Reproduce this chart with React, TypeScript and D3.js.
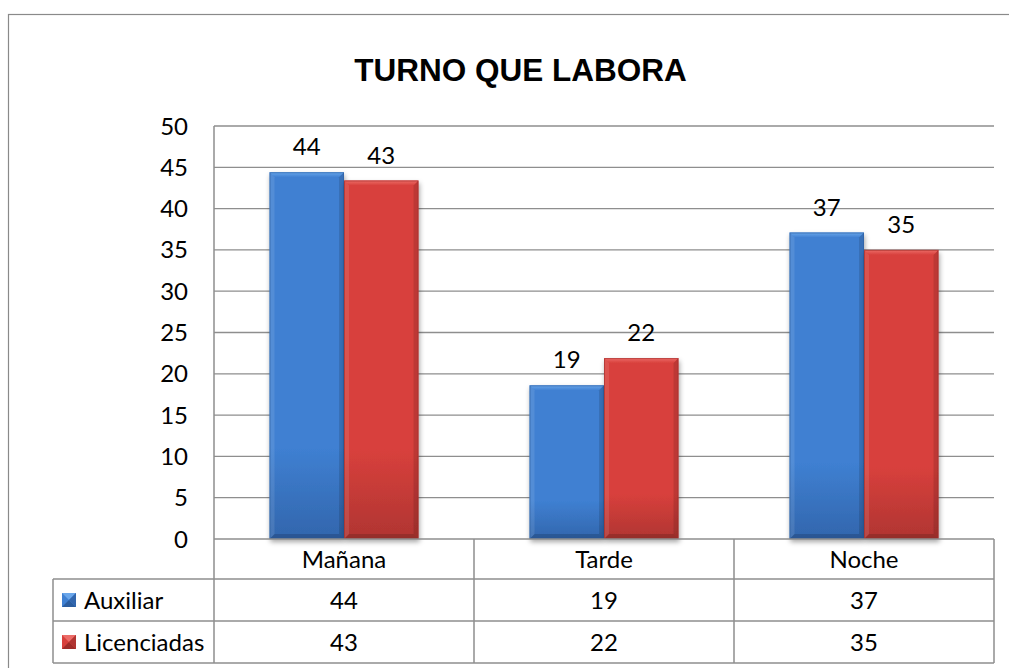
import React, { useEffect, useRef } from 'react';
import * as d3 from 'd3';

// chart data
const categories = ['Mañana', 'Tarde', 'Noche'];
const seriesNames = ['Auxiliar', 'Licenciadas'];
const auxiliar = [44.4, 18.6, 37.1];
const licenciadas = [43.4, 21.9, 35.0];
const yTicks = [0, 5, 10, 15, 20, 25, 30, 35, 40, 45, 50];
const title = 'TURNO QUE LABORA';

const palette = [
  { main: '#3f80d2', top: '#6aa6ea', dark: '#2b5d9f', bottom: '#3266ad' },
  { main: '#d8403c', top: '#ec6c68', dark: '#9e2c29', bottom: '#b03532' },
];

const FONT = 'Lato, "Liberation Sans", sans-serif';
const FS = 24;

export default function App() {
  const ref = useRef<SVGSVGElement>(null);

  useEffect(() => {
    const svg = d3.select(ref.current);
    svg.selectAll('*').remove();

    const W = 1009, H = 668;
    const plot = { left: 214, right: 994, top: 126, bottom: 539 };
    const rowH = [539, 579, 621, 663];
    const tableLeft = 53;
    const gridColor = '#8e8e8e';
    const values = [auxiliar, licenciadas];

    const defs = svg.append('defs');
    palette.forEach((c, i) => {
      const g = defs.append('linearGradient').attr('id', 'body' + i)
        .attr('x1', 0).attr('y1', 0).attr('x2', 0).attr('y2', 1);
      g.append('stop').attr('offset', '0%').attr('stop-color', c.main);
      g.append('stop').attr('offset', '75%').attr('stop-color', c.main);
      g.append('stop').attr('offset', '100%').attr('stop-color', c.bottom);
      const t = defs.append('linearGradient').attr('id', 'top' + i)
        .attr('x1', 0).attr('y1', 0).attr('x2', 0).attr('y2', 1);
      t.append('stop').attr('offset', '0%').attr('stop-color', c.top);
      t.append('stop').attr('offset', '100%').attr('stop-color', c.main);
    });
    const f = defs.append('filter').attr('id', 'shadow')
      .attr('x', '-20%').attr('y', '-10%').attr('width', '140%').attr('height', '130%');
    f.append('feDropShadow').attr('dx', 1).attr('dy', 3).attr('stdDeviation', 2.5)
      .attr('flood-color', '#000').attr('flood-opacity', 0.35);

    // outer chart frame (clipped on right and bottom)
    svg.append('rect').attr('x', 8.5).attr('y', 14.5).attr('width', W + 40).attr('height', H + 40)
      .attr('fill', '#fff').attr('stroke', '#8a8a8a').attr('stroke-width', 1.2);

    svg.append('text').attr('x', 520.5).attr('y', 81).attr('text-anchor', 'middle')
      .attr('font-family', '"Liberation Sans", Arial, sans-serif').attr('font-weight', 'bold')
      .attr('font-size', 31.5).attr('fill', '#000').text(title);

    const y = d3.scaleLinear().domain([0, 50]).range([plot.bottom, plot.top]);
    const x0 = d3.scaleBand<string>().domain(categories).range([plot.left, plot.right]);
    const x1 = d3.scaleBand<string>().domain(seriesNames).range([0, x0.bandwidth()])
      .paddingInner(0).paddingOuter(0.745);

    // gridlines
    svg.append('g').selectAll('line').data(yTicks.filter(d => d > 0)).join('line')
      .attr('x1', plot.left).attr('x2', plot.right)
      .attr('y1', d => y(d)).attr('y2', d => y(d))
      .attr('stroke', gridColor).attr('stroke-width', 1.3);

    // y axis labels
    svg.append('g').selectAll('text').data(yTicks).join('text')
      .attr('x', 188).attr('y', d => y(d) + 8.5).attr('text-anchor', 'end')
      .attr('font-family', FONT).attr('font-size', FS).attr('fill', '#000')
      .text(d => d);

    // bars
    const bars = svg.append('g');
    seriesNames.forEach((s, si) => {
      const c = palette[si];
      categories.forEach((cat, ci) => {
        const v = values[si][ci];
        const bx = x0(cat)! + x1(s)!;
        const bw = x1.bandwidth();
        const by = y(v);
        const bh = plot.bottom - by;
        const b = 5;
        const g = bars.append('g').attr('filter', 'url(#shadow)');
        g.append('rect').attr('x', bx).attr('y', by).attr('width', bw).attr('height', bh)
          .attr('fill', `url(#body${si})`);
        g.append('polygon')
          .attr('points', [[bx, by], [bx + bw, by], [bx + bw - b, by + b], [bx + b, by + b]].map(p => p.join(',')).join(' '))
          .attr('fill', `url(#top${si})`);
        g.append('polygon')
          .attr('points', [[bx, by], [bx + b, by + b], [bx + b, by + bh - b], [bx, by + bh]].map(p => p.join(',')).join(' '))
          .attr('fill', '#fff').attr('opacity', 0.1);
        g.append('polygon')
          .attr('points', [[bx + bw, by], [bx + bw - b, by + b], [bx + bw - b, by + bh - b], [bx + bw, by + bh]].map(p => p.join(',')).join(' '))
          .attr('fill', '#000').attr('opacity', 0.12);
        g.append('polygon')
          .attr('points', [[bx, by + bh], [bx + b, by + bh - b], [bx + bw - b, by + bh - b], [bx + bw, by + bh]].map(p => p.join(',')).join(' '))
          .attr('fill', '#000').attr('opacity', 0.15);
        g.append('rect').attr('x', bx + 0.5).attr('y', by + 0.5).attr('width', bw - 1).attr('height', bh - 1)
          .attr('fill', 'none').attr('stroke', c.dark).attr('stroke-width', 1).attr('opacity', 0.6);

        svg.append('text').attr('x', bx + bw / 2).attr('y', by - 17).attr('text-anchor', 'middle')
          .attr('font-family', FONT).attr('font-size', FS).attr('fill', '#000')
          .text(Math.round(v));
      });
    });

    // data table lines
    const tbl = svg.append('g').attr('stroke', gridColor).attr('stroke-width', 1.5);
    tbl.append('line').attr('x1', plot.left).attr('x2', plot.right).attr('y1', rowH[0]).attr('y2', rowH[0]);
    rowH.slice(1).forEach(r => {
      tbl.append('line').attr('x1', tableLeft).attr('x2', plot.right).attr('y1', r).attr('y2', r);
    });
    tbl.append('line').attr('x1', tableLeft).attr('x2', tableLeft).attr('y1', rowH[1]).attr('y2', rowH[3]);
    tbl.append('line').attr('x1', plot.left).attr('x2', plot.left).attr('y1', plot.top).attr('y2', rowH[3]);
    categories.forEach(cat => {
      const xe = x0(cat)! + x0.bandwidth();
      tbl.append('line').attr('x1', xe).attr('x2', xe).attr('y1', rowH[0]).attr('y2', rowH[3]);
    });

    // category header row
    svg.append('g').selectAll('text').data(categories).join('text')
      .attr('x', d => x0(d)! + x0.bandwidth() / 2).attr('y', (rowH[0] + rowH[1]) / 2 + 9)
      .attr('text-anchor', 'middle').attr('font-family', FONT).attr('font-size', FS).attr('fill', '#000')
      .text(d => d);

    // series rows
    seriesNames.forEach((s, si) => {
      const cy = (rowH[si + 1] + rowH[si + 2]) / 2;
      const c = palette[si];
      const ix = 62, is = 14, iy = cy - 7;
      const key = svg.append('g');
      key.append('rect').attr('x', ix).attr('y', iy).attr('width', is).attr('height', is).attr('fill', c.main);
      key.append('polygon').attr('points', `${ix},${iy} ${ix + is},${iy} ${ix + is / 2},${iy + is / 2}`).attr('fill', c.top);
      key.append('polygon').attr('points', `${ix},${iy + is} ${ix + is},${iy + is} ${ix + is / 2},${iy + is / 2}`).attr('fill', c.dark);
      key.append('polygon').attr('points', `${ix + is},${iy} ${ix + is},${iy + is} ${ix + is / 2},${iy + is / 2}`).attr('fill', c.bottom);
      svg.append('text').attr('x', 84).attr('y', cy + 9)
        .attr('font-family', FONT).attr('font-size', FS).attr('fill', '#000').text(s);
      svg.append('g').selectAll('text').data(categories).join('text')
        .attr('x', d => x0(d)! + x0.bandwidth() / 2).attr('y', cy + 9)
        .attr('text-anchor', 'middle').attr('font-family', FONT).attr('font-size', FS).attr('fill', '#000')
        .text((d, i) => Math.round(values[si][i]));
    });
  }, []);

  return (
    <svg ref={ref} width={1009} height={668}
      style={{ position: 'absolute', left: 0, top: 0, display: 'block', background: '#fff' }} />
  );
}
